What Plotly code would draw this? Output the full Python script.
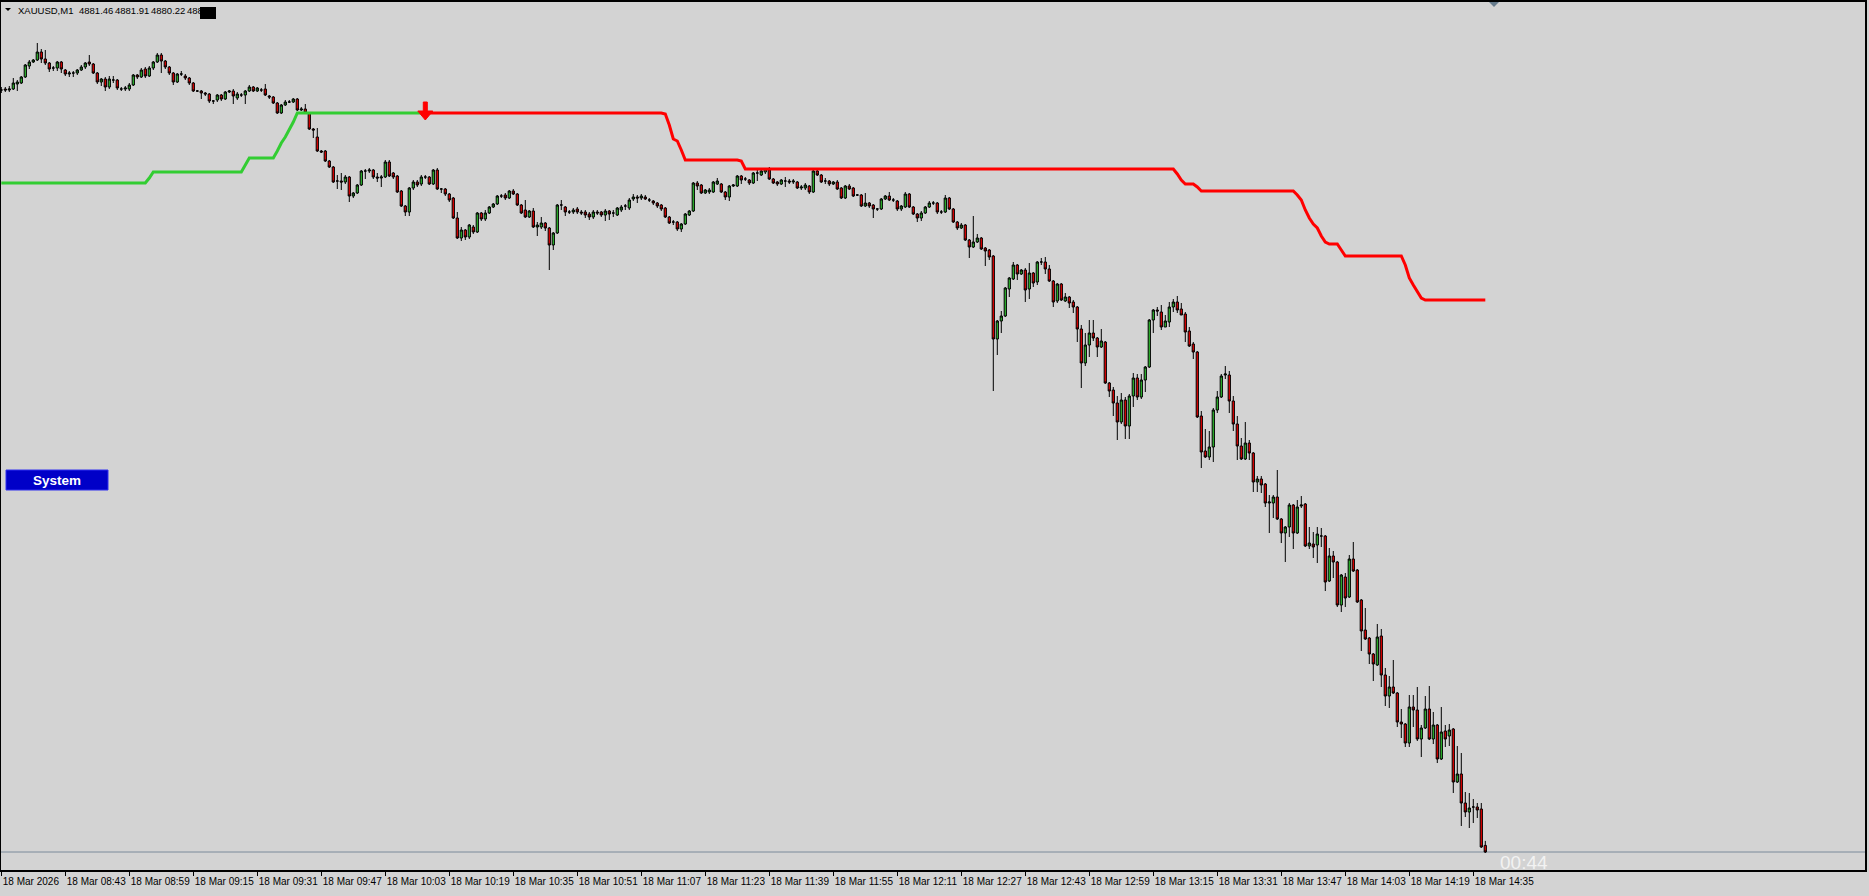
import plotly.graph_objects as go

# ---------------- data (XAUUSD M1, 18 Mar 2026, 08:27 .. 14:38) ----------------
opens = [
4957.0, 4957.1, 4957.0, 4957.1, 4957.6, 4957.7, 4958.3, 4959.4, 4959.8, 4960.0,
4960.8, 4960.1, 4959.7, 4959.2, 4959.2, 4959.8, 4959.0, 4958.6, 4958.7, 4958.7,
4959.0, 4959.3, 4959.8, 4959.6, 4958.7, 4957.8, 4958.1, 4957.3, 4958.0, 4958.0,
4957.1, 4957.1, 4957.1, 4957.5, 4958.5, 4958.3, 4959.1, 4958.4, 4959.2, 4959.8,
4960.5, 4959.9, 4959.3, 4958.7, 4957.8, 4958.6, 4958.4, 4958.2, 4957.7, 4956.9,
4956.9, 4956.7, 4956.6, 4955.9, 4956.0, 4956.5, 4956.1, 4956.8, 4956.9, 4956.2,
4956.5, 4956.5, 4956.9, 4957.3, 4956.9, 4957.0, 4957.1, 4956.4, 4956.3, 4955.7,
4954.7, 4955.5, 4955.8, 4955.8, 4956.1, 4955.0, 4955.1, 4954.7, 4953.1, 4952.3,
4950.9, 4950.9, 4949.9, 4949.3, 4947.9, 4947.9, 4947.8, 4948.3, 4946.4, 4946.7,
4947.5, 4948.9, 4948.9, 4949.0, 4948.3, 4948.2, 4948.3, 4949.8, 4948.7, 4948.4,
4946.9, 4945.4, 4944.8, 4947.2, 4947.8, 4947.6, 4948.3, 4948.3, 4947.6, 4949.0,
4947.1, 4947.1, 4946.6, 4946.2, 4944.2, 4942.2, 4943.0, 4942.3, 4943.3, 4942.8,
4944.7, 4944.1, 4944.7, 4945.3, 4945.6, 4946.4, 4946.5, 4946.2, 4946.9, 4946.6,
4945.5, 4945.0, 4944.3, 4944.9, 4943.3, 4943.3, 4943.7, 4943.2, 4941.5, 4942.7,
4945.5, 4945.3, 4944.8, 4944.8, 4945.1, 4944.8, 4944.8, 4944.6, 4944.3, 4944.8,
4944.8, 4944.5, 4944.9, 4944.7, 4944.5, 4945.0, 4945.4, 4945.2, 4946.1, 4946.3,
4946.2, 4946.3, 4946.0, 4945.9, 4945.7, 4945.5, 4945.2, 4944.3, 4943.8, 4943.8,
4943.1, 4943.6, 4944.5, 4944.9, 4947.7, 4947.5, 4946.7, 4946.8, 4946.8, 4947.6,
4947.6, 4946.8, 4946.3, 4947.4, 4947.4, 4948.4, 4948.1, 4948.0, 4947.7, 4948.7,
4948.5, 4948.8, 4949.0, 4948.1, 4947.8, 4947.6, 4947.9, 4947.9, 4947.8, 4947.8,
4947.2, 4947.2, 4947.4, 4946.8, 4948.9, 4948.5, 4947.9, 4947.9, 4947.6, 4947.8,
4947.2, 4946.2, 4947.4, 4947.2, 4946.5, 4946.5, 4945.4, 4945.7, 4945.5, 4945.1,
4945.1, 4946.1, 4946.4, 4946.0, 4945.9, 4945.1, 4945.3, 4946.6, 4945.3, 4944.6,
4944.2, 4944.7, 4945.3, 4945.7, 4945.7, 4944.8, 4944.8, 4946.2, 4945.1, 4943.8,
4943.2, 4943.5, 4942.0, 4941.3, 4941.8, 4942.2, 4941.2, 4941.0, 4940.4, 4932.1,
4933.9, 4934.4, 4937.1, 4938.1, 4939.5, 4938.6, 4939.0, 4937.1, 4938.7, 4937.8,
4939.8, 4939.8, 4939.1, 4937.9, 4935.9, 4937.6, 4935.9, 4936.3, 4935.8, 4935.3,
4933.1, 4929.7, 4931.5, 4932.7, 4932.2, 4931.3, 4931.8, 4927.7, 4927.0, 4925.7,
4923.8, 4926.0, 4923.4, 4926.4, 4928.2, 4926.3, 4928.0, 4929.3, 4934.0, 4935.0,
4934.8, 4933.3, 4933.8, 4935.3, 4935.8, 4935.1, 4934.6, 4932.9, 4931.6, 4930.8,
4924.4, 4920.9, 4920.3, 4921.3, 4925.0, 4926.3, 4928.5, 4928.5, 4925.9, 4923.6,
4921.4, 4920.1, 4921.7, 4920.7, 4917.8, 4918.1, 4917.6, 4915.7, 4915.7, 4916.3,
4914.1, 4912.7, 4913.3, 4915.5, 4912.7, 4915.4, 4915.6, 4911.4, 4911.6, 4911.5,
4912.4, 4912.4, 4907.9, 4910.4, 4909.8, 4905.5, 4908.3, 4906.3, 4910.1, 4909.0,
4906.0, 4903.0, 4902.2, 4900.6, 4899.5, 4902.4, 4898.5, 4896.4, 4897.3, 4896.7,
4893.8, 4893.6, 4891.7, 4895.3, 4895.0, 4892.1, 4893.2, 4895.1, 4892.1, 4893.5,
4890.1, 4892.9, 4892.4, 4893.1, 4887.8, 4888.6, 4885.7, 4884.8, 4885.3, 4885.3,
4885.1, 4881.46,
]

highs = [
4957.3, 4957.3, 4957.4, 4958.2, 4958.0, 4958.4, 4959.6, 4960.0, 4960.1, 4961.7,
4961.1, 4961.0, 4959.8, 4959.4, 4959.9, 4959.9, 4959.1, 4958.9, 4958.9, 4959.1,
4959.5, 4959.8, 4960.5, 4959.7, 4958.8, 4958.2, 4958.3, 4958.4, 4958.4, 4958.1,
4957.3, 4957.4, 4957.7, 4958.6, 4958.6, 4959.2, 4959.3, 4959.4, 4959.9, 4960.7,
4960.7, 4960.0, 4959.4, 4958.8, 4958.7, 4958.9, 4958.6, 4958.3, 4957.8, 4957.0,
4957.0, 4956.8, 4956.7, 4956.0, 4956.6, 4956.6, 4956.9, 4957.0, 4957.1, 4956.8,
4956.7, 4957.0, 4957.5, 4957.4, 4957.3, 4957.2, 4957.6, 4956.5, 4956.4, 4955.8,
4955.6, 4956.0, 4956.0, 4956.2, 4956.2, 4955.3, 4955.6, 4954.8, 4953.2, 4953.2,
4951.0, 4951.0, 4950.0, 4949.4, 4948.5, 4948.7, 4948.5, 4948.4, 4946.8, 4947.6,
4949.0, 4949.1, 4949.2, 4949.1, 4948.7, 4948.5, 4950.0, 4950.0, 4948.8, 4948.5,
4947.0, 4945.5, 4947.3, 4948.0, 4948.0, 4948.5, 4948.5, 4948.4, 4949.1, 4949.2,
4947.2, 4947.2, 4946.7, 4946.3, 4944.8, 4943.3, 4943.1, 4943.6, 4943.5, 4944.8,
4944.8, 4945.0, 4945.4, 4945.7, 4946.5, 4946.6, 4946.7, 4947.0, 4947.1, 4946.7,
4945.6, 4946.0, 4945.0, 4945.2, 4943.8, 4944.3, 4943.8, 4943.3, 4942.8, 4945.6,
4946.0, 4945.4, 4945.0, 4945.2, 4945.3, 4945.0, 4945.0, 4944.8, 4945.0, 4945.0,
4944.9, 4945.1, 4945.0, 4945.0, 4945.3, 4945.5, 4945.6, 4946.2, 4946.6, 4946.5,
4946.6, 4946.5, 4946.2, 4946.0, 4945.8, 4945.6, 4945.3, 4944.4, 4944.0, 4943.9,
4943.7, 4944.7, 4945.0, 4947.8, 4947.9, 4947.6, 4947.1, 4947.2, 4947.9, 4948.2,
4947.7, 4946.9, 4947.5, 4947.6, 4948.5, 4948.5, 4948.3, 4948.1, 4948.8, 4949.0,
4949.1, 4949.2, 4949.3, 4948.2, 4947.9, 4948.1, 4948.3, 4948.1, 4948.1, 4947.9,
4947.5, 4947.7, 4947.5, 4949.0, 4949.0, 4948.6, 4948.2, 4948.0, 4947.9, 4948.0,
4947.3, 4947.5, 4947.6, 4947.3, 4946.6, 4946.6, 4946.7, 4945.8, 4945.6, 4945.2,
4946.2, 4946.5, 4946.8, 4946.2, 4946.0, 4945.5, 4946.8, 4946.7, 4945.4, 4944.7,
4944.9, 4945.4, 4945.9, 4945.9, 4945.8, 4945.0, 4946.5, 4946.3, 4945.2, 4943.9,
4943.7, 4943.6, 4942.1, 4944.4, 4942.6, 4942.3, 4941.3, 4941.1, 4940.5, 4934.0,
4934.9, 4937.3, 4938.3, 4939.8, 4939.6, 4939.1, 4939.2, 4939.7, 4938.8, 4939.9,
4940.2, 4940.3, 4939.5, 4938.0, 4937.7, 4937.7, 4936.7, 4936.4, 4936.0, 4935.4,
4933.5, 4932.7, 4934.0, 4934.0, 4932.3, 4933.1, 4931.9, 4927.8, 4927.3, 4926.4,
4926.7, 4926.3, 4926.6, 4928.7, 4928.6, 4928.6, 4929.4, 4934.1, 4935.1, 4935.3,
4935.5, 4934.5, 4935.8, 4936.1, 4936.4, 4935.7, 4934.8, 4933.3, 4931.8, 4930.9,
4924.9, 4923.1, 4922.9, 4925.2, 4926.9, 4928.6, 4929.4, 4928.9, 4926.4, 4924.4,
4922.2, 4923.8, 4922.0, 4920.8, 4918.4, 4918.4, 4917.7, 4916.5, 4916.5, 4919.0,
4914.2, 4913.4, 4915.7, 4915.6, 4916.0, 4916.4, 4915.7, 4913.3, 4912.8, 4913.3,
4913.2, 4912.5, 4911.2, 4910.9, 4909.9, 4908.6, 4908.7, 4910.5, 4911.8, 4909.1,
4906.1, 4905.2, 4902.3, 4900.7, 4903.6, 4903.1, 4899.2, 4898.4, 4900.0, 4896.8,
4895.1, 4893.7, 4896.5, 4896.5, 4897.3, 4893.5, 4896.4, 4897.4, 4894.8, 4893.6,
4895.3, 4893.5, 4893.6, 4893.2, 4891.4, 4890.7, 4886.8, 4886.7, 4886.1, 4885.7,
4885.7, 4881.91,
]

lows = [
4956.7, 4956.8, 4956.8, 4957.0, 4956.9, 4957.6, 4958.2, 4959.1, 4959.7, 4959.9,
4959.7, 4959.5, 4958.8, 4958.9, 4958.9, 4958.7, 4958.4, 4958.3, 4958.3, 4958.5,
4958.9, 4959.1, 4959.4, 4958.6, 4957.6, 4957.4, 4956.9, 4957.1, 4957.7, 4957.0,
4956.9, 4956.9, 4956.9, 4957.4, 4958.1, 4958.2, 4958.2, 4958.3, 4959.0, 4959.7,
4958.7, 4959.1, 4958.5, 4957.5, 4957.7, 4958.4, 4958.0, 4957.5, 4956.8, 4956.8,
4956.1, 4956.4, 4955.7, 4955.6, 4955.8, 4955.9, 4956.0, 4956.7, 4955.6, 4956.0,
4956.3, 4955.6, 4956.8, 4956.8, 4956.8, 4956.8, 4956.4, 4956.1, 4955.6, 4954.6,
4954.6, 4955.4, 4955.7, 4955.7, 4954.9, 4954.9, 4954.6, 4953.0, 4952.2, 4950.8,
4950.7, 4949.8, 4949.2, 4947.7, 4947.1, 4947.0, 4947.6, 4945.8, 4946.2, 4946.6,
4947.4, 4948.1, 4948.7, 4948.1, 4947.8, 4947.3, 4948.2, 4948.3, 4948.1, 4946.7,
4945.3, 4944.4, 4944.4, 4947.0, 4947.3, 4947.4, 4948.1, 4947.5, 4947.5, 4947.0,
4946.7, 4946.4, 4945.8, 4944.1, 4942.1, 4941.9, 4942.0, 4942.1, 4942.6, 4942.7,
4943.9, 4943.9, 4944.6, 4945.2, 4945.5, 4946.2, 4946.0, 4946.1, 4946.5, 4945.4,
4944.6, 4944.2, 4944.2, 4943.2, 4942.4, 4943.1, 4942.9, 4939.0, 4941.0, 4942.6,
4945.0, 4944.4, 4944.6, 4944.6, 4944.6, 4944.5, 4944.2, 4944.0, 4944.1, 4944.5,
4944.3, 4943.9, 4944.0, 4944.3, 4944.4, 4944.8, 4945.0, 4945.0, 4945.9, 4945.7,
4946.0, 4946.0, 4945.8, 4945.5, 4945.2, 4944.9, 4944.2, 4943.6, 4943.5, 4942.9,
4942.8, 4943.5, 4944.4, 4944.8, 4947.0, 4946.6, 4946.6, 4946.6, 4946.7, 4947.5,
4946.7, 4946.0, 4945.9, 4947.3, 4947.3, 4947.6, 4947.9, 4947.5, 4947.6, 4947.9,
4948.4, 4948.6, 4948.0, 4947.6, 4947.4, 4947.5, 4947.3, 4947.6, 4947.6, 4947.1,
4947.0, 4947.0, 4946.6, 4946.7, 4948.4, 4947.7, 4947.6, 4947.4, 4947.5, 4947.0,
4946.1, 4946.1, 4947.0, 4946.3, 4946.4, 4945.3, 4945.3, 4945.2, 4944.2, 4944.9,
4945.0, 4946.0, 4945.9, 4945.8, 4944.9, 4944.9, 4945.2, 4945.2, 4944.5, 4943.8,
4943.9, 4944.6, 4945.2, 4945.5, 4944.6, 4944.6, 4944.7, 4945.0, 4943.7, 4943.0,
4943.1, 4941.9, 4940.2, 4941.2, 4941.7, 4941.0, 4939.4, 4940.0, 4926.9, 4930.5,
4932.7, 4934.3, 4936.3, 4938.0, 4938.0, 4938.5, 4935.8, 4936.1, 4937.3, 4937.5,
4939.5, 4938.6, 4937.8, 4935.3, 4935.7, 4935.9, 4935.8, 4935.2, 4934.7, 4931.8,
4927.2, 4929.4, 4930.3, 4931.9, 4930.3, 4931.2, 4927.6, 4926.3, 4924.4, 4922.0,
4923.6, 4922.1, 4922.1, 4925.3, 4926.0, 4926.1, 4926.8, 4929.2, 4932.7, 4934.4,
4933.0, 4933.3, 4933.3, 4934.8, 4934.7, 4934.5, 4931.8, 4931.3, 4930.1, 4924.2,
4919.2, 4920.2, 4920.0, 4919.8, 4924.7, 4926.2, 4928.1, 4924.7, 4922.9, 4920.0,
4920.0, 4920.0, 4920.0, 4916.8, 4916.8, 4916.7, 4915.3, 4912.7, 4914.2, 4914.0,
4911.7, 4909.8, 4912.3, 4911.1, 4912.6, 4915.2, 4911.3, 4911.1, 4910.2, 4909.7,
4911.3, 4906.9, 4907.8, 4908.2, 4905.3, 4904.8, 4905.3, 4906.2, 4908.8, 4905.7,
4900.9, 4902.0, 4899.6, 4897.9, 4899.4, 4897.3, 4895.4, 4895.2, 4896.6, 4893.3,
4892.2, 4891.3, 4891.3, 4893.3, 4891.9, 4890.3, 4893.1, 4892.0, 4891.6, 4889.7,
4890.0, 4891.3, 4891.4, 4886.7, 4887.7, 4883.4, 4884.3, 4883.2, 4883.7, 4884.2,
4881.2, 4880.7,
]

closes = [
4957.0, 4957.0, 4957.1, 4957.7, 4957.8, 4958.3, 4959.5, 4959.8, 4960.0, 4960.8,
4960.1, 4959.7, 4959.1, 4959.2, 4959.8, 4959.1, 4958.6, 4958.7, 4958.7, 4959.0,
4959.3, 4959.7, 4959.6, 4958.7, 4957.8, 4958.1, 4957.3, 4958.1, 4958.0, 4957.2,
4957.1, 4957.2, 4957.5, 4958.5, 4958.3, 4959.0, 4958.4, 4959.2, 4959.8, 4960.5,
4959.9, 4959.3, 4958.7, 4957.8, 4958.6, 4958.6, 4958.2, 4957.7, 4956.9, 4956.9,
4956.7, 4956.6, 4955.9, 4955.9, 4956.5, 4956.1, 4956.8, 4956.9, 4956.4, 4956.6,
4956.5, 4956.9, 4957.3, 4956.9, 4957.2, 4957.0, 4956.5, 4956.3, 4955.7, 4954.7,
4955.5, 4955.8, 4955.8, 4956.1, 4955.0, 4955.1, 4954.7, 4953.1, 4953.0, 4950.9,
4950.8, 4949.9, 4949.3, 4947.8, 4947.9, 4947.8, 4948.3, 4946.4, 4946.7, 4947.5,
4948.9, 4948.9, 4949.0, 4948.3, 4948.2, 4948.3, 4949.8, 4948.4, 4948.3, 4946.8,
4945.4, 4944.8, 4947.2, 4947.8, 4947.5, 4948.3, 4948.3, 4947.6, 4949.0, 4947.1,
4947.1, 4946.6, 4946.0, 4944.2, 4942.2, 4943.0, 4942.3, 4943.5, 4942.8, 4944.7,
4944.1, 4944.7, 4945.3, 4945.6, 4946.4, 4946.4, 4946.2, 4946.9, 4946.6, 4945.5,
4944.7, 4944.3, 4944.9, 4943.3, 4943.5, 4943.7, 4943.2, 4941.5, 4942.7, 4945.5,
4945.5, 4944.8, 4944.8, 4945.0, 4944.8, 4944.7, 4944.5, 4944.3, 4944.8, 4944.7,
4944.5, 4944.9, 4944.6, 4944.7, 4945.2, 4945.3, 4945.4, 4946.0, 4946.3, 4946.2,
4946.4, 4946.1, 4946.0, 4945.7, 4945.4, 4945.1, 4944.3, 4943.7, 4943.8, 4943.1,
4943.6, 4944.6, 4944.9, 4947.7, 4947.4, 4946.7, 4947.0, 4947.0, 4947.8, 4947.9,
4946.8, 4946.3, 4947.4, 4947.5, 4948.4, 4948.0, 4948.1, 4947.7, 4948.7, 4948.7,
4948.9, 4949.1, 4948.1, 4947.7, 4947.6, 4948.0, 4947.9, 4947.8, 4947.9, 4947.2,
4947.3, 4947.5, 4946.8, 4948.9, 4948.5, 4947.8, 4947.9, 4947.6, 4947.8, 4947.1,
4946.2, 4947.4, 4947.1, 4946.4, 4946.5, 4945.4, 4945.7, 4945.4, 4945.1, 4945.1,
4946.1, 4946.4, 4946.0, 4946.0, 4945.1, 4945.4, 4946.6, 4945.3, 4944.6, 4944.2,
4944.7, 4945.3, 4945.7, 4945.7, 4944.8, 4944.8, 4946.2, 4945.1, 4943.8, 4943.2,
4943.5, 4942.0, 4941.3, 4941.8, 4942.2, 4941.1, 4940.9, 4940.3, 4932.1, 4933.9,
4934.4, 4937.2, 4938.2, 4939.5, 4938.6, 4939.0, 4937.0, 4938.7, 4937.7, 4939.8,
4939.8, 4939.1, 4937.9, 4935.8, 4937.6, 4936.0, 4936.3, 4935.7, 4935.3, 4933.1,
4929.7, 4931.5, 4932.7, 4932.2, 4931.3, 4931.9, 4927.7, 4926.9, 4925.7, 4923.8,
4926.0, 4923.4, 4926.4, 4928.2, 4926.3, 4928.0, 4929.3, 4934.0, 4935.0, 4934.9,
4933.3, 4933.9, 4935.3, 4935.8, 4935.0, 4934.5, 4932.8, 4931.4, 4930.8, 4924.3,
4920.8, 4920.3, 4921.3, 4925.0, 4926.3, 4928.4, 4928.6, 4925.9, 4923.6, 4921.4,
4920.1, 4921.7, 4920.7, 4917.8, 4918.1, 4917.5, 4915.7, 4915.8, 4916.3, 4914.1,
4912.7, 4913.3, 4915.5, 4912.7, 4915.3, 4915.5, 4911.4, 4911.7, 4911.3, 4912.6,
4912.4, 4907.8, 4910.4, 4909.8, 4905.5, 4908.5, 4906.2, 4910.1, 4908.9, 4905.8,
4902.9, 4902.1, 4900.6, 4899.6, 4902.3, 4898.5, 4896.4, 4897.3, 4896.7, 4893.8,
4893.6, 4891.7, 4895.3, 4895.0, 4892.1, 4893.2, 4895.1, 4892.1, 4893.5, 4890.1,
4892.8, 4892.1, 4893.0, 4887.8, 4888.6, 4885.7, 4884.8, 4885.2, 4885.3, 4885.0,
4881.3, 4880.8,
]

# trailing-stop indicator (green = long phase, red = short phase)
trail_green = ([4947.7] * 37 + [4948.2] + [4948.8] * 23 + [4949.5] + [4950.2] * 7
               + [4950.9, 4951.7, 4952.3, 4953.0, 4953.8] + [4954.7] * 33 + [None] * 265)
trail_red = ([None] * 106 + [4954.7] * 60 + [4954.6, 4953.5, 4952.1, 4951.9, 4951.0]
             + [4950.0] * 14 + [4949.9] + [4949.1] * 108 + [4948.6, 4948.0]
             + [4947.6] * 3 + [4947.3] + [4946.9] * 24 + [4946.5]
             + [4946.0, 4945.0, 4944.2, 4943.6, 4943.2, 4942.4, 4941.8]
             + [4941.6] * 3 + [4941.0] + [4940.4] * 15
             + [4939.5, 4938.2, 4937.5, 4936.8, 4936.2] + [4936.0] * 16)

sell_signal_bar = 106
sell_signal_price = 4954.0

tick_bars = [0, 16, 32, 48, 64, 80, 96, 112, 128, 144, 160, 176, 192, 208, 224, 240,
             256, 272, 288, 304, 320, 336, 352, 368]
tick_labels = ["18 Mar 2026", "18 Mar 08:43", "18 Mar 08:59", "18 Mar 09:15", "18 Mar 09:31",
               "18 Mar 09:47", "18 Mar 10:03", "18 Mar 10:19", "18 Mar 10:35", "18 Mar 10:51",
               "18 Mar 11:07", "18 Mar 11:23", "18 Mar 11:39", "18 Mar 11:55", "18 Mar 12:11",
               "18 Mar 12:27", "18 Mar 12:43", "18 Mar 12:59", "18 Mar 13:15", "18 Mar 13:31",
               "18 Mar 13:47", "18 Mar 14:03", "18 Mar 14:19", "18 Mar 14:35"]

header_tokens = ["XAUUSD,M1", "4881.46", "4881.91", "4880.22", "488"]
header_token_px = [16, 77, 113, 149, 185]
timer_text = "00:44"
button_text = "System"

n = len(closes)
assert len(opens) == n and len(highs) == n and len(lows) == n, (len(opens), len(highs), len(lows), n)
assert len(trail_green) == n and len(trail_red) == n, (len(trail_green), len(trail_red))
bars = list(range(n))

# ---------------- layout geometry ----------------
W, H = 1869, 896
L, R, T, B = 1, 1865, 2, 870          # plot area in pixels
PX_PER_BAR = 4.0
FIRST_BAR_PX = 1.3
PX_PER_PRICE = 10.0
TOP_PRICE = 4966.0                   # price at pixel row 0

x0 = (L - FIRST_BAR_PX) / PX_PER_BAR
x1 = (R - FIRST_BAR_PX) / PX_PER_BAR
y_hi = TOP_PRICE - T / PX_PER_PRICE
y_lo = TOP_PRICE - B / PX_PER_PRICE


def fx(px):
    return (px - L) / (R - L)


def fy(py):
    return (B - py) / (B - T)


BG = "#D3D3D3"
fig = go.Figure()

fig.add_trace(go.Candlestick(
    x=bars, open=opens, high=highs, low=lows, close=closes,
    increasing=dict(line=dict(color="black", width=1), fillcolor="#2EB82E"),
    decreasing=dict(line=dict(color="black", width=1), fillcolor="#E50000"),
    whiskerwidth=0, hoverinfo="skip", showlegend=False,
))
fig.add_trace(go.Scatter(x=bars, y=trail_green, mode="lines",
                         line=dict(color="#32CD32", width=3), hoverinfo="skip", showlegend=False))
fig.add_trace(go.Scatter(x=bars, y=trail_red, mode="lines",
                         line=dict(color="#FF0000", width=3), hoverinfo="skip", showlegend=False))

# sell arrow (drawn around the signal bar, size in pixels)
arrow_px = [(-2, 18), (2, 18), (2, 9), (7.5, 9), (0, 0), (-7.5, 9), (-2, 9)]
pts = [(sell_signal_bar + dx / PX_PER_BAR, sell_signal_price + dy / PX_PER_PRICE) for dx, dy in arrow_px]
path = "M " + " L ".join(f"{a},{b}" for a, b in pts) + " Z"
shapes = [
    dict(type="path", path=path, xref="x", yref="y", fillcolor="#FF0000",
         line=dict(color="#FF0000", width=1)),
    # bid line
    dict(type="line", xref="paper", yref="y", x0=0, x1=1, y0=closes[-1], y1=closes[-1],
         line=dict(color="#7A8A9A", width=1), layer="below"),
    # System button
    dict(type="rect", xref="paper", yref="paper", x0=fx(6), x1=fx(108), y0=fy(490), y1=fy(470),
         fillcolor="#0000C8", line=dict(color="#3030F0", width=1)),
    # black box over header
    dict(type="rect", xref="paper", yref="paper", x0=fx(200), x1=fx(216), y0=fy(19), y1=fy(7),
         fillcolor="black", line=dict(width=0)),
    # header triangle
    dict(type="path", xref="paper", yref="paper",
         path=f"M {fx(5)},{fy(8)} L {fx(11)},{fy(8)} L {fx(8)},{fy(11)} Z",
         fillcolor="black", line=dict(width=0)),
    # shift marker at top
    dict(type="path", xref="paper", yref="paper",
         path=f"M {fx(1489)},{fy(2)} L {fx(1499)},{fy(2)} L {fx(1494)},{fy(7)} Z",
         fillcolor="#667B8C", line=dict(width=0)),
]

annotations = [
    dict(text=tok, xref="paper", yref="paper", x=fx(px), y=fy(10.5), xanchor="left",
         yanchor="middle", showarrow=False, font=dict(family="Liberation Sans", size=9.5, color="black"))
    for tok, px in zip(header_tokens, header_token_px)
] + [
    dict(text=f"<b>{button_text}</b>", xref="paper", yref="paper", x=fx(57), y=fy(480.5),
         xanchor="center", yanchor="middle", showarrow=False,
         font=dict(family="Liberation Sans", size=13.5, color="white")),
    dict(text=timer_text, xref="paper", yref="paper", x=fx(1498), y=fy(862), xanchor="left",
         yanchor="middle", showarrow=False, font=dict(family="Liberation Sans", size=19, color="#F2F2F2")),
]

fig.update_layout(
    width=W, height=H,
    margin=dict(l=L, r=W - R, t=T, b=H - B, pad=0),
    paper_bgcolor=BG, plot_bgcolor=BG,
    showlegend=False, hovermode=False,
    boxgap=0.2, boxgroupgap=0.3,
    shapes=shapes, annotations=annotations,
    xaxis=dict(range=[x0, x1], showgrid=False, zeroline=False, rangeslider=dict(visible=False),
               showline=True, mirror=True, linecolor="black", linewidth=2,
               ticks="outside", ticklen=4, tickwidth=1, tickcolor="black",
               tickvals=tick_bars, ticktext=tick_labels, ticklabelposition="outside right",
               tickangle=0, ticklabelstandoff=1,
               tickfont=dict(family="Liberation Sans", size=10, color="black"),
               automargin=False, fixedrange=True),
    yaxis=dict(range=[y_lo, y_hi], showgrid=False, zeroline=False, showticklabels=False,
               ticks="", showline=True, mirror=True, linecolor="black", linewidth=2,
               automargin=False, fixedrange=True),
)

fig.write_html("out.html", config={"displayModeBar": False, "staticPlot": True},
               post_script="document.body.style.margin='0px';document.body.style.overflow='hidden';")
